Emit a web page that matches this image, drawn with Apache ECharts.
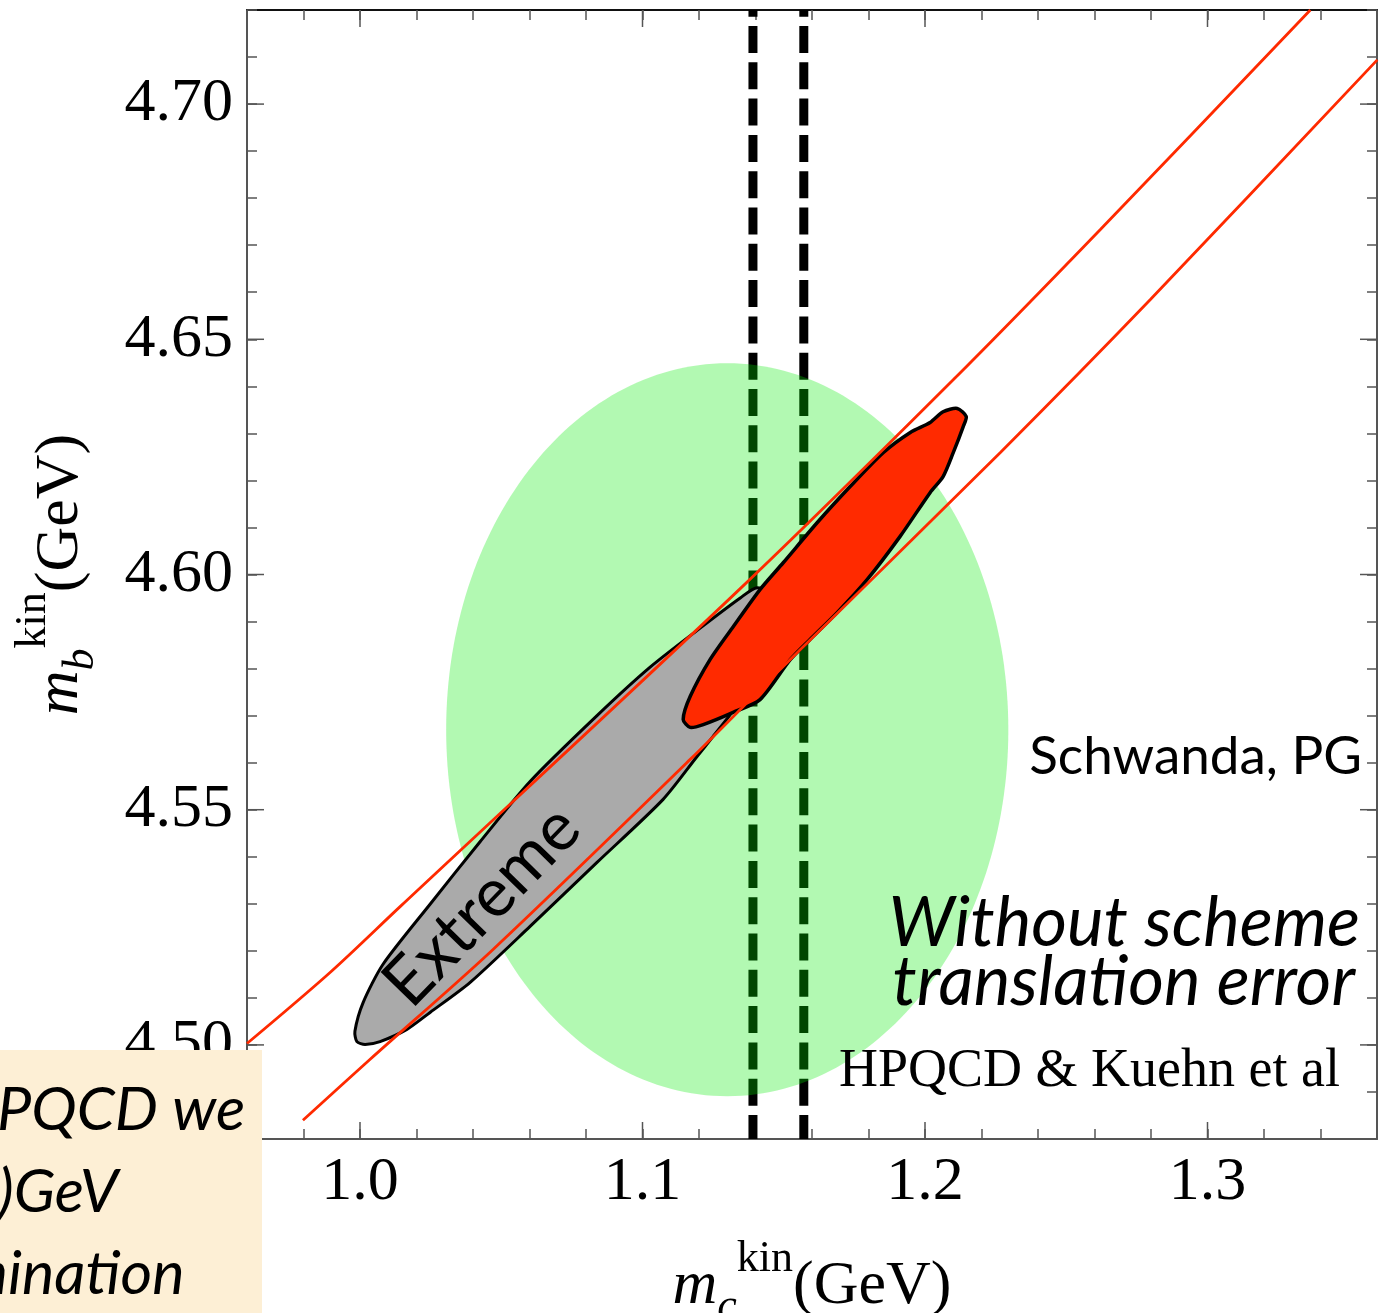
<!DOCTYPE html>
<html><head><meta charset="utf-8">
<script src="https://cdn.jsdelivr.net/npm/echarts@6/dist/echarts.min.js"></script>
<style>html,body{margin:0;padding:0;background:#fff}#chart{width:1389px;height:1313px}</style>
</head><body><div id="chart"></div>
<script>
// ---- data ----
const xRange = [0.96, 1.36];
const yRange = [4.48, 4.72];
const xMajorTicks = [1.0, 1.1, 1.2, 1.3];
const yMajorTicks = [4.50, 4.55, 4.60, 4.65, 4.70];
// HPQCD & Kuehn et al ellipse: centre mc, centre mb, half-width mc, half-height mb
const hpqcdEllipse = [1.130, 4.567, 0.0995, 0.0779];
// vertical dashed lines (mc values)
const dashedMc = [1.1391, 1.1571];
// "Extreme" contour (grey)
const extremeContour = [
  [0.9982,4.5029],[1.0011,4.5090],[1.0081,4.5171],[1.0248,4.5299],[1.0425,4.5432],
  [1.0602,4.5560],[1.0839,4.5700],[1.1027,4.5803],[1.1204,4.5886],[1.1346,4.5950],
  [1.1406,4.5972],[1.1480,4.5950],[1.1440,4.5830],[1.1320,4.5710],
  [1.1250,4.5656],[1.1193,4.5613],[1.1073,4.5522],[1.0839,4.5388],[1.0602,4.5252],
  [1.0390,4.5133],[1.0248,4.5069],[1.0166,4.5033],[1.0071,4.5007],[1.0018,4.5001],
  [0.9989,4.5007]
];
// Schwanda, PG contour (red)
const fitContour = [
  [1.2146,4.6336],[1.2114,4.6353],[1.2064,4.6346],[1.2018,4.6323],[1.1948,4.6302],
  [1.1852,4.6259],[1.1735,4.6187],[1.1618,4.6110],[1.1498,4.6025],[1.1416,4.5968],
  [1.1321,4.5889],[1.1239,4.5819],[1.1169,4.5741],[1.1144,4.5692],[1.1169,4.5675],
  [1.1215,4.5681],[1.1321,4.5707],[1.1416,4.5734],[1.1523,4.5819],[1.1593,4.5862],
  [1.1689,4.5919],[1.1795,4.5989],[1.1912,4.6081],[1.2018,4.6174],[1.2064,4.6208],
  [1.2100,4.6259],[1.2135,4.6314]
];
// red band (upper and lower edge)
const bandUpper = [[0.9600,4.5003],[0.9894,4.5154],[1.0142,4.5294],[1.1346,4.5970],[1.2100,4.6414],[1.2620,4.6733],[1.3364,4.7200]];
const bandLower = [[0.9798,4.4840],[1.0035,4.4969],[1.0471,4.5203],[1.1169,4.5607],[1.1487,4.5798],[1.2266,4.6259],[1.2797,4.6584],[1.3601,4.7094]];

// ---- chart ----
const serif = 'Liberation Serif';
const chart = echarts.init(document.getElementById('chart'), null, {renderer: 'canvas'});

function isMajor(list, v) { return list.some(t => Math.abs(t - v) < 1e-6); }

const axisCommon = {
  type: 'value', splitLine: {show: false},
  axisLine: {show: true, onZero: false, lineStyle: {color: '#555', width: 2}},
  axisTick: {show: true, inside: true, length: 10, lineStyle: {color: '#555', width: 1.5}}
};

const nameRich = {
  m: {fontFamily: serif, fontStyle: 'italic', fontSize: 62, verticalAlign: 'middle', color: '#000'},
  s: {fontFamily: serif, fontStyle: 'italic', fontSize: 44, verticalAlign: 'middle', padding: [40, 0, 0, 0], color: '#000'},
  k: {fontFamily: serif, fontSize: 44, verticalAlign: 'middle', padding: [0, 0, 56, 0], color: '#000'},
  g: {fontFamily: serif, fontSize: 62, verticalAlign: 'middle', color: '#000'}
};

function contourSeries(points, fill, lw, smooth) {
  return {
    type: 'custom', silent: true, animation: false, z: 4,
    data: points,
    renderItem: (params, api) => {
      if (params.dataIndex !== 0) return null;
      return {type: 'polygon', shape: {points: points.map(p => api.coord(p)), smooth: smooth},
              style: {fill: fill, stroke: '#000', lineWidth: lw, lineJoin: 'round'}};
    }
  };
}

const series = [];
dashedMc.forEach(x => series.push({
  type: 'line', silent: true, animation: false, symbol: 'none', z: 2,
  data: [[x, yRange[1]], [x, yRange[0]]],
  lineStyle: {color: '#000', width: 9, type: [27, 9.3], dashOffset: 20.3, cap: 'butt'}
}));
series.push({
  type: 'custom', silent: true, animation: false, z: 3,
  data: [hpqcdEllipse],
  renderItem: (params, api) => {
    const c = api.coord([api.value(0), api.value(1)]);
    const s = api.size([api.value(2), api.value(3)]);
    return {type: 'ellipse', shape: {cx: c[0], cy: c[1], rx: s[0], ry: s[1]}, style: {fill: 'rgba(0,235,0,0.3)'}};
  }
});
series.push(contourSeries(extremeContour, '#aaaaaa', 3, 0.25));
series.push(contourSeries(fitContour, '#ff2a00', 3.5, 0.25));
[bandUpper, bandLower].forEach(d => series.push({
  type: 'line', silent: true, animation: false, symbol: 'none', z: 5, smooth: 0.3, clip: true,
  data: d, lineStyle: {color: '#ff2a00', width: 2.8}
}));
// longer major ticks on all four sides
series.push({
  type: 'custom', silent: true, animation: false, z: 6,
  data: xMajorTicks.map(v => [v, yRange[0]]),
  renderItem: (params, api) => {
    const p = api.coord([api.value(0), api.value(1)]);
    const cs = params.coordSys;
    const st = {stroke: '#555', lineWidth: 1.5};
    return {type: 'group', children: [
      {type: 'line', shape: {x1: p[0], y1: cs.y + cs.height, x2: p[0], y2: cs.y + cs.height - 17}, style: st},
      {type: 'line', shape: {x1: p[0], y1: cs.y, x2: p[0], y2: cs.y + 17}, style: st}
    ]};
  }
});
series.push({
  type: 'custom', silent: true, animation: false, z: 6,
  data: yMajorTicks.map(v => [xRange[0], v]),
  renderItem: (params, api) => {
    const p = api.coord([api.value(0), api.value(1)]);
    const cs = params.coordSys;
    const st = {stroke: '#555', lineWidth: 1.5};
    return {type: 'group', children: [
      {type: 'line', shape: {x1: cs.x, y1: p[1], x2: cs.x + 17, y2: p[1]}, style: st},
      {type: 'line', shape: {x1: cs.x + cs.width, y1: p[1], x2: cs.x + cs.width - 17, y2: p[1]}, style: st}
    ]};
  }
});

const txt = (text, x, y, opt, rot) => ({
  type: 'text', z: 100, x: x, y: y, rotation: rot || 0,
  style: Object.assign({text: text, fill: '#000', align: 'left', verticalAlign: 'middle'}, opt)
});

chart.setOption({
  backgroundColor: '#fff',
  animation: false,
  grid: {left: 247, top: 10, width: 1130, height: 1129, containLabel: false, outerBoundsMode: 'none'},
  xAxis: [
    Object.assign({}, axisCommon, {
      position: 'bottom', min: xRange[0], max: xRange[1], interval: 0.02,
      axisLabel: {show: true, margin: 13, fontFamily: serif, fontSize: 62, color: '#000',
        formatter: v => isMajor(xMajorTicks, v) ? v.toFixed(1) : ''},
      name: '{m|m}{s|c}{k|kin}{g|(GeV)}', nameLocation: 'middle', nameGap: 98,
      nameTextStyle: {rich: nameRich}
    }),
    Object.assign({}, axisCommon, {
      position: 'top', min: xRange[0], max: xRange[1], interval: 0.02,
      axisLine: {show: true, onZero: false, lineStyle: {color: '#111', width: 2}},
      axisLabel: {show: false}
    })
  ],
  yAxis: [
    Object.assign({}, axisCommon, {
      position: 'left', min: yRange[0], max: yRange[1], interval: 0.01,
      axisLabel: {show: true, margin: 14, fontFamily: serif, fontSize: 62, color: '#000',
        formatter: v => isMajor(yMajorTicks, v) ? v.toFixed(2) : ''},
      name: '{m|m}{s|b}{k|kin}{g|(GeV)}', nameLocation: 'middle', nameGap: 136,
      nameTextStyle: {rich: nameRich}
    }),
    Object.assign({}, axisCommon, {
      position: 'right', min: yRange[0], max: yRange[1], interval: 0.01,
      axisLabel: {show: false}
    })
  ],
  series: series,
  graphic: [
    txt('Extreme', 482, 906, {font: 'normal 68px Lato', align: 'center'}, 0.8),
    txt('Schwanda, PG', 1362, 757, {font: 'normal 53px Lato', align: 'right'}),
    txt('Without scheme', 1360, 924, {font: 'italic 69px Lato', align: 'right'}),
    txt('translation error', 1355, 983, {font: 'italic 69px Lato', align: 'right'}),
    txt('HPQCD & Kuehn et al', 1340, 1072, {font: 'normal 54px "Liberation Serif"', align: 'right'}),
    {type: 'rect', z: 99, shape: {x: 0, y: 1050, width: 262, height: 263}, style: {fill: '#fdefd5'}},
    txt('PQCD we', -3, 1110, {font: 'italic 61px Lato'}),
    txt(')GeV', -2, 1192, {font: 'italic 61px Lato'}),
    txt('mination', -40, 1274, {font: 'italic 61px Lato'})
  ]
});
</script>
</body></html>
